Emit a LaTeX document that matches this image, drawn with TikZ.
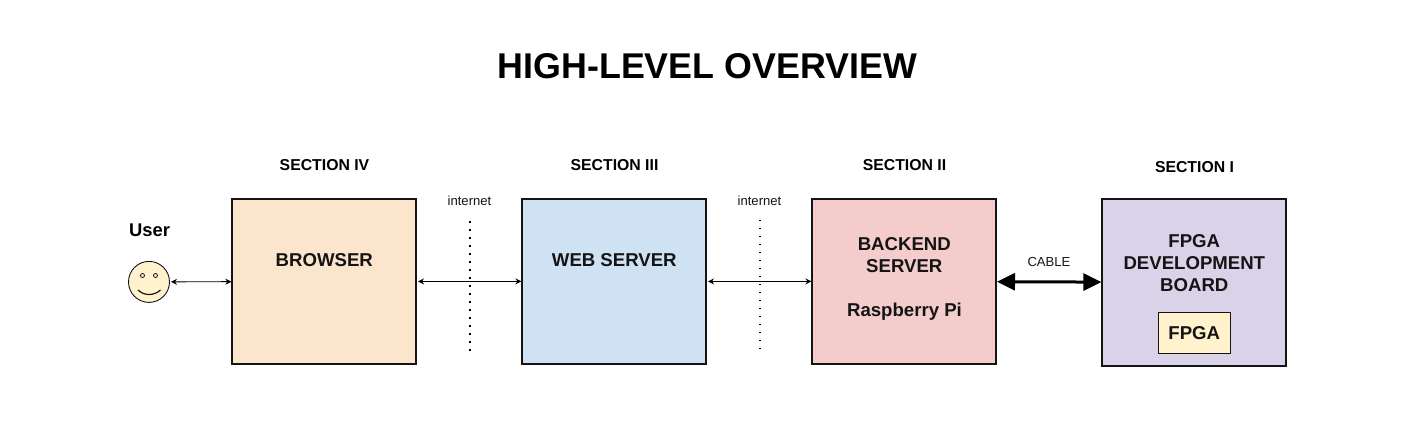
\documentclass[tikz,border=0pt]{standalone}
\usepackage{fontspec}
\setmainfont{Liberation Sans}
\usetikzlibrary{positioning,arrows.meta}
\definecolor{inkc}{HTML}{141414}
\begin{document}
\begin{tikzpicture}[x=1pt, y=-1pt,
    block/.style = {draw=inkc, line width=2pt, minimum width=183.6pt, minimum height=165.7pt, inner sep=0pt},
    boxtext/.style = {font=\fontsize{18.6}{22}\selectfont\bfseries, align=center, text=inkc, inner sep=0pt},
    sectext/.style = {font=\fontsize{15.8}{18}\selectfont\bfseries, text=black, inner sep=0pt},
    small/.style = {font=\fontsize{13.1}{15}\selectfont, text=inkc, inner sep=0pt},
    link/.style = {{Stealth[length=6pt,width=6pt]}-{Stealth[length=6pt,width=6pt]}, line width=0.9pt, shorten <=1pt},
    cable/.style = {{Stealth[length=18pt,width=17pt,inset=0pt]}-{Stealth[length=18pt,width=17pt,inset=0pt]}, line width=3pt},
    sep/.style = {line width=1.8pt, dash pattern=on 1.8pt off 6.2pt}]
        \useasboundingbox (0,0) rectangle (1414,429);
        \node[font=\fontsize{35.8}{42}\selectfont\bfseries, inner sep=0pt] (title) at (707.3,66) {HIGH-LEVEL OVERVIEW};
        %
        \node[block, fill={rgb,255:red,252;green,229;blue,205}] (browser) at (324.2,281.4) {};
        \node[block, fill={rgb,255:red,207;green,226;blue,243}, right=104.4pt of browser] (web) {};
        \node[block, fill={rgb,255:red,244;green,204;blue,204}, right=104.4pt of web] (backend) {};
        \node[block, fill={rgb,255:red,217;green,210;blue,233}, minimum height=167.7pt] (board) at (1194.2,282.4) {};
        \node[draw=inkc, line width=1pt, fill={rgb,255:red,255;green,242;blue,204}, minimum width=72pt, minimum height=41pt, inner sep=0pt] (chip) at (1194.5,332.8) {};
        %
        \node[draw=inkc, line width=0.9pt, circle, fill={rgb,255:red,255;green,242;blue,204}, minimum size=41pt, inner sep=0pt] (user) at (149,281.9) {};
        \node[draw=inkc, line width=0.8pt, circle, minimum size=4pt, inner sep=0pt] (eyel) at (142.5,275.5) {};
        \node[draw=inkc, line width=0.8pt, circle, minimum size=4pt, inner sep=0pt] (eyer) at (155.5,275.5) {};
        \coordinate (smilel) at (138,290);
        \coordinate (smiler) at (160.5,290);
        \draw[inkc, line width=1.2pt] (smilel) .. controls (144,296) and (154,296) .. (smiler);
        %
        \node[sectext, font=\fontsize{18.4}{21}\selectfont\bfseries] (usertext) at (149.5,230) {User};
        \node[sectext] (sec4) at (324.5,165) {SECTION IV};
        \node[sectext] (sec3) at (614.5,165) {SECTION III};
        \node[sectext] (sec2) at (904.5,165) {SECTION II};
        \node[sectext] (sec1) at (1194.5,167) {SECTION I};
        %
        \node[boxtext] (browsertext) at (324.3,260) {BROWSER};
        \node[boxtext] (webtext) at (614.3,260) {WEB SERVER};
        \node[boxtext] (backendtext) at (904.3,255) {BACKEND\\SERVER};
        \node[boxtext] (pitext) at (904.5,312) {Raspberry Pi};
        \node[boxtext] (boardtext) at (1194.3,263) {FPGA\\DEVELOPMENT\\BOARD};
        \node[boxtext] (chiptext) at (1194.3,333) {FPGA};
        %
        \node[small] (net1) at (469.5,200.5) {internet};
        \node[small] (net2) at (759.5,200.5) {internet};
        \node[small] (cabletext) at (1049,262) {CABLE};
        %
        \coordinate (dots1a) at (469.8,221);
        \coordinate (dots1b) at (469.8,351);
        \coordinate (dots2a) at (759.8,219.5);
        \coordinate (dots2b) at (759.8,349.5);
        \draw[sep] (dots1a) -- (dots1b);
        \draw[sep] (dots2a) -- (dots2b);
        %
        \draw[link] (user) -- (browser);
        \draw[link] (browser) -- (web);
        \draw[link] (web) -- (backend);
        \draw[cable] (backend) -- (board);
      \end{tikzpicture}
\end{document}
